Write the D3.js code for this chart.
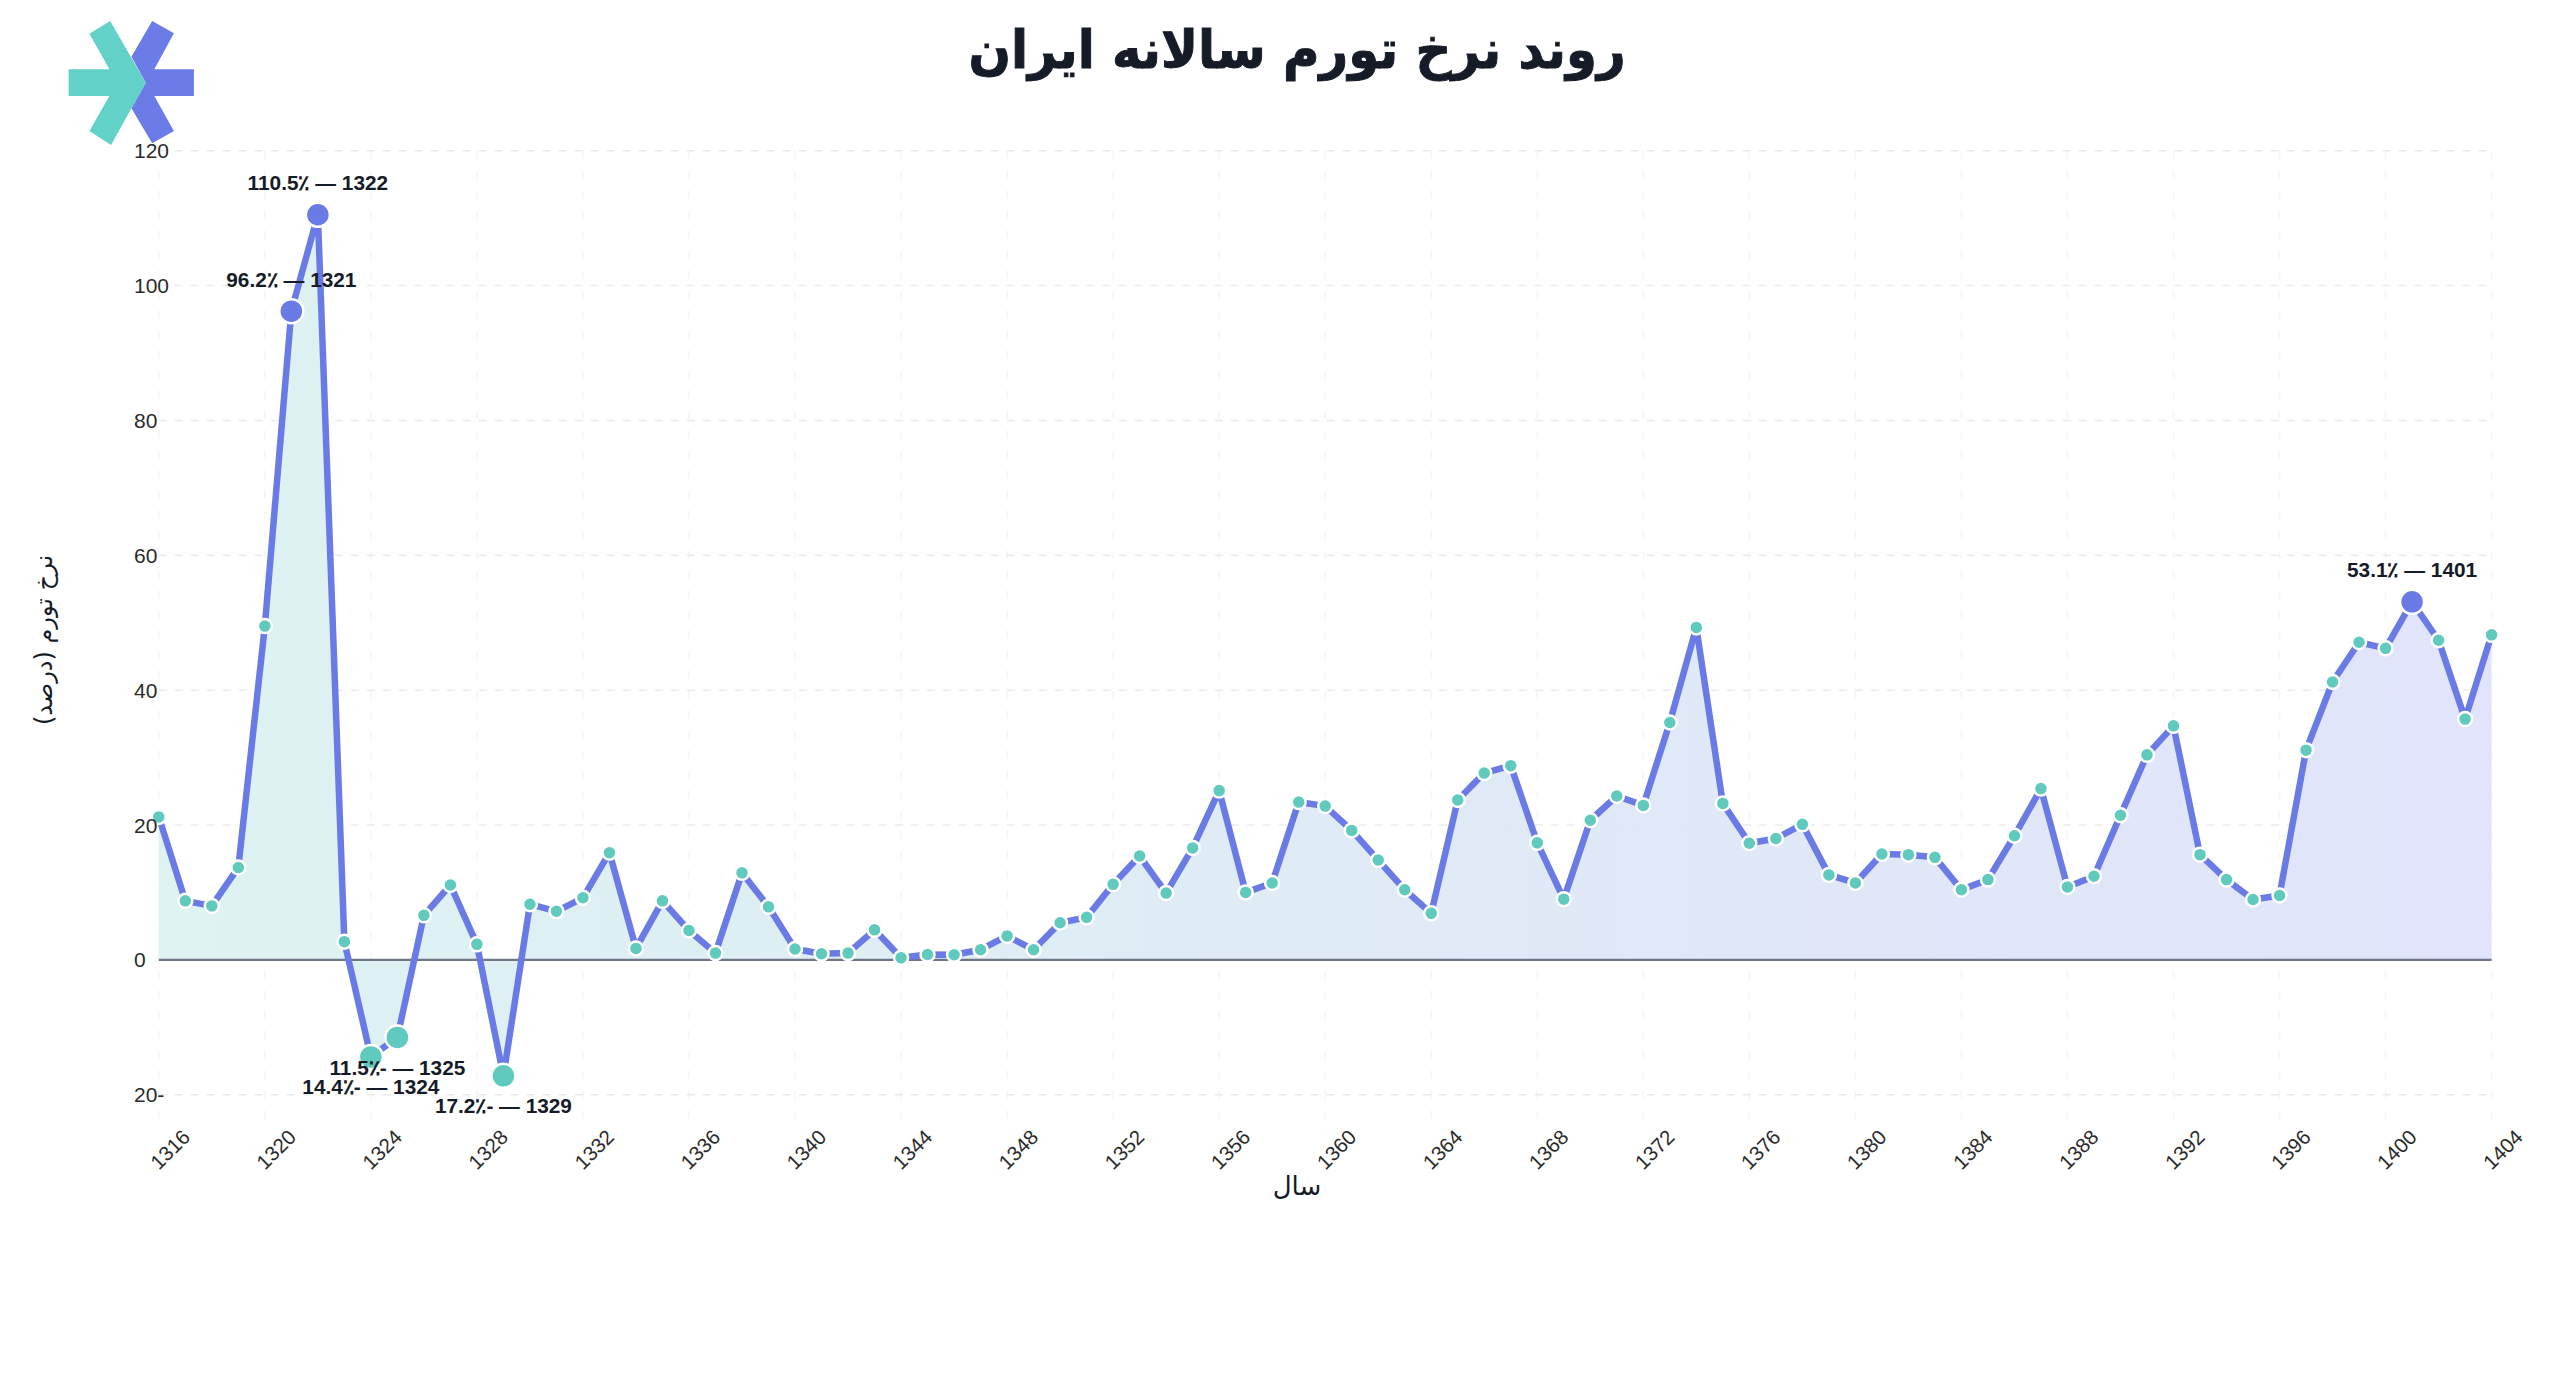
<!DOCTYPE html>
<html lang="fa">
<head>
<meta charset="utf-8">
<title>روند نرخ تورم سالانه ایران</title>
<script src="https://cdn.jsdelivr.net/npm/d3@7/dist/d3.min.js"></script>
<style>
html,body{margin:0;padding:0;background:#fff;}
svg{display:block;}
</style>
</head>
<body>
<svg id="chart" width="2560" height="1381"></svg>
<script>
const chartTitle = "روند نرخ تورم سالانه ایران";
const xAxisTitle = "سال";
const yAxisTitle = "نرخ تورم (درصد)";
const years = d3.range(1316, 1405);
const inflation = [
  21.2, 8.75, 8.0, 13.7, 49.5, 96.2, 110.5, 2.7, -14.4, -11.5,
  6.6, 11.1, 2.3, -17.2, 8.25, 7.2, 9.2, 15.9, 1.7, 8.75,
  4.35, 1.0, 12.9, 7.86, 1.6, 0.9, 1.0, 4.45, 0.3, 0.8,
  0.75, 1.5, 3.55, 1.5, 5.5, 6.3, 11.2, 15.4, 9.9, 16.6,
  25.1, 10.0, 11.4, 23.4, 22.8, 19.2, 14.8, 10.4, 6.9, 23.7,
  27.7, 28.8, 17.35, 9.0, 20.7, 24.3, 22.9, 35.2, 49.3, 23.2,
  17.3, 18.0, 20.1, 12.6, 11.4, 15.7, 15.6, 15.2, 10.4, 11.9,
  18.4, 25.4, 10.8, 12.4, 21.45, 30.4, 34.7, 15.6, 11.9, 8.95,
  9.55, 31.1, 41.2, 47.1, 46.2, 53.1, 47.4, 35.7, 48.2
];
const xTicks = d3.range(1316, 1405, 4);
const yTicks = [-20, 0, 20, 40, 60, 80, 100, 120];
const highYears = [1321, 1322, 1401];
const lowYears = [1324, 1325, 1329];

const blue = "#6b7be6", teal = "#60cabe", ink = "#161b28";
const data = years.map((year, i) => ({year, value: inflation[i]}));

const x = d3.scaleLinear().domain([1316, 1404]).range([158.8, 2491.6]);
const y = d3.scaleLinear().domain([-20, 120]).range([1094.7, 150.7]);
const svg = d3.select("#chart");

const grad = svg.append("defs").append("linearGradient")
  .attr("id", "areaFill").attr("gradientUnits", "userSpaceOnUse")
  .attr("x1", x(1316)).attr("x2", x(1404)).attr("y1", 0).attr("y2", 0);
grad.append("stop").attr("offset", 0).attr("stop-color", "#dcf2f1");
grad.append("stop").attr("offset", 1).attr("stop-color", "#e0e3fa");

// grid
svg.append("g").selectAll("line").data(xTicks).join("line")
  .attr("x1", d => x(d)).attr("x2", d => x(d))
  .attr("y1", y(120)).attr("y2", 1125)
  .attr("stroke", "#f5f5f5").attr("stroke-width", 1.5).attr("stroke-dasharray", "8 12");
svg.append("g").selectAll("line").data(yTicks.filter(d => d !== 0)).join("line")
  .attr("x1", x(1316)).attr("x2", x(1404))
  .attr("y1", d => y(d)).attr("y2", d => y(d))
  .attr("stroke", "#ebebeb").attr("stroke-width", 1.5).attr("stroke-dasharray", "8 8");

// area and zero line
svg.append("path").datum(data)
  .attr("fill", "url(#areaFill)")
  .attr("fill-opacity", 0.97)
  .attr("d", d3.area().x(d => x(d.year)).y0(y(0)).y1(d => y(d.value)));
svg.append("line")
  .attr("x1", x(1316)).attr("x2", x(1404)).attr("y1", y(0)).attr("y2", y(0))
  .attr("stroke", "#6f7686").attr("stroke-width", 2.2);

// line
svg.append("path").datum(data)
  .attr("fill", "none").attr("stroke", blue).attr("stroke-width", 6.5)
  .attr("stroke-linejoin", "round")
  .attr("d", d3.line().x(d => x(d.year)).y(d => y(d.value)));

// points
const isHigh = d => highYears.includes(d.year);
const isLow = d => lowYears.includes(d.year);
svg.append("g").selectAll("circle").data(data).join("circle")
  .attr("cx", d => x(d.year)).attr("cy", d => y(d.value))
  .attr("r", d => isHigh(d) || isLow(d) ? 12 : 7)
  .attr("fill", d => isHigh(d) ? blue : teal)
  .attr("stroke", "#fff").attr("stroke-width", 2.5);

// axes
const xAxis = svg.append("g").attr("transform", `translate(0,${y(-20)})`)
  .call(d3.axisBottom(x).tickValues(xTicks).tickFormat(String).tickSize(0));
xAxis.select(".domain").remove();
xAxis.selectAll("text")
  .attr("font-family", "'Liberation Sans', Arial, sans-serif").attr("font-size", 20.5)
  .attr("fill", "#2b2b2b").attr("text-anchor", "middle").attr("dominant-baseline", "middle")
  .attr("y", 0).attr("dy", 0)
  .attr("transform", "translate(12,56) rotate(-45)");

const yAxis = svg.append("g").attr("transform", `translate(${x(1316)},0)`)
  .call(d3.axisLeft(y).tickValues(yTicks).tickFormat(String).tickSize(0));
yAxis.select(".domain").remove();
yAxis.selectAll("text")
  .attr("font-family", "'Liberation Sans', Arial, sans-serif").attr("font-size", 21)
  .attr("fill", "#2b2b2b").attr("direction", "rtl").attr("text-anchor", "end")
  .attr("dominant-baseline", "middle").attr("dy", 1.5)
  .attr("x", 134 - x(1316));

// callouts
svg.append("g").selectAll("text").data(data.filter(d => isHigh(d) || isLow(d))).join("text")
  .attr("x", d => x(d.year))
  .attr("y", d => y(d.value) + (isHigh(d) ? -30 : 32))
  .attr("direction", "rtl").attr("text-anchor", "middle").attr("dominant-baseline", "middle")
  .attr("font-family", "'Liberation Sans', Arial, sans-serif").attr("font-weight", 700)
  .attr("font-size", 20.8).attr("fill", ink)
  .text(d => `${d.year} — ${d.value.toFixed(1)}٪`);

// titles
svg.append("text").attr("transform", "translate(1297,54) scale(0.94,1)")
  .attr("direction", "rtl").attr("text-anchor", "middle").attr("dominant-baseline", "middle")
  .attr("font-family", "'DejaVu Sans', sans-serif").attr("font-weight", 700)
  .attr("font-size", 53).attr("fill", ink)
  .attr("stroke", ink).attr("stroke-width", 1).text(chartTitle);
svg.append("text").attr("x", 1297).attr("y", 1187)
  .attr("direction", "rtl").attr("text-anchor", "middle").attr("dominant-baseline", "middle")
  .attr("font-family", "'DejaVu Sans', sans-serif")
  .attr("font-size", 26).attr("fill", ink).text(xAxisTitle);
svg.append("text").attr("transform", "translate(45,640) rotate(-90)")
  .attr("direction", "rtl").attr("text-anchor", "middle").attr("dominant-baseline", "middle")
  .attr("font-family", "'DejaVu Sans', sans-serif")
  .attr("font-size", 24).attr("fill", ink).text(yAxisTitle);

// logo
const logo = svg.append("g");
logo.append("polygon").attr("fill", "#6b7be8")
  .attr("points", "131.4,56.7 152.2,21 173.9,33.3 154.3,69.3 193.9,69.3 193.9,96 154.3,96 173.9,131 152.2,143.3 131.4,108.3 145.7,82.7");
logo.append("polygon").attr("fill", "#62d2c8")
  .attr("points", "68.6,69.3 109.4,69.3 89.4,33.7 110.2,21 145.7,82.7 111,145 89.4,131 109.4,96 68.6,96");
</script>
</body>
</html>
